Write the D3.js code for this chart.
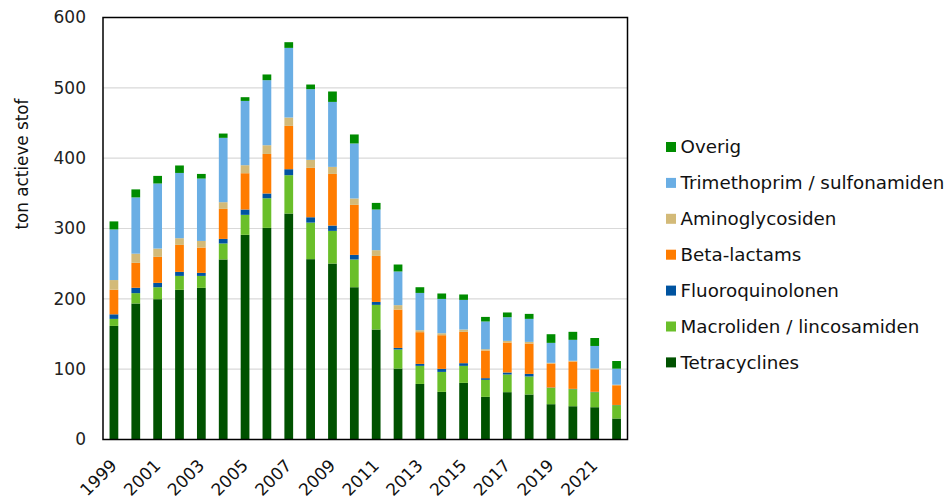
<!DOCTYPE html>
<html>
<head>
<meta charset="utf-8">
<script src="https://cdn.jsdelivr.net/npm/d3@7"></script>
<style>
  html, body { margin: 0; padding: 0; background: #fff; }
  svg { display: block; font-family: "DejaVu Sans", Verdana, sans-serif; }
</style>
</head>
<body>
<svg id="chart" width="952" height="499"></svg>
<script>
// Veterinary antibiotic sales (ton active substance), per class, 1999-2022
const years = d3.range(1999, 2023).map(String);

const tetracyclines = [161.5, 193.4, 199.5, 212.8, 215.6, 256.0, 291.0, 300.9, 321.3, 256.4, 250.2, 216.5, 156.4, 100.9, 79.0, 67.7, 80.5, 60.6, 67.3, 64.0, 50.2, 47.3, 45.9, 29.9];
const macroliden    = [10.0, 14.7, 17.0, 19.8, 17.0, 22.7, 28.4, 42.1, 54.5, 52.0, 46.4, 39.4, 35.0, 27.1, 25.7, 28.4, 24.2, 24.2, 25.1, 25.6, 23.2, 24.2, 21.4, 18.9];
const fluoroquinolonen = [6.5, 7.6, 6.2, 5.7, 4.3, 6.5, 7.6, 6.8, 8.5, 7.6, 7.6, 6.6, 4.2, 2.2, 2.8, 4.3, 3.8, 2.4, 2.9, 3.7, 0.5, 0.5, 0.5, 0.3];
const betaLactams   = [35.0, 35.5, 37.0, 38.4, 36.0, 42.7, 51.6, 56.2, 61.6, 70.2, 73.4, 71.1, 65.4, 54.6, 45.1, 47.9, 44.5, 39.3, 42.6, 43.2, 34.1, 38.9, 32.0, 28.0];
const aminoglycosiden = [13.7, 13.0, 11.8, 9.5, 9.4, 9.5, 11.4, 12.4, 11.9, 11.4, 10.0, 9.1, 8.2, 6.2, 2.8, 2.8, 3.4, 1.9, 2.3, 2.3, 1.0, 1.0, 1.4, 0.8];
const trimethoprim  = [72.0, 80.0, 92.5, 92.8, 88.7, 91.5, 91.4, 92.5, 99.0, 100.5, 92.4, 78.2, 57.8, 47.9, 53.0, 48.8, 42.1, 39.4, 33.7, 32.7, 28.4, 29.8, 31.8, 22.8];
const overig        = [11.4, 11.4, 10.8, 10.6, 6.6, 6.1, 5.3, 8.1, 8.1, 6.6, 14.8, 12.8, 9.4, 9.9, 8.1, 7.7, 7.7, 6.5, 6.7, 7.1, 12.3, 11.4, 11.3, 10.9];

const seriesNames = ["Tetracyclines", "Macroliden / lincosamiden", "Fluoroquinolonen", "Beta-lactams", "Aminoglycosiden", "Trimethoprim / sulfonamiden", "Overig"];
const seriesValues = [tetracyclines, macroliden, fluoroquinolonen, betaLactams, aminoglycosiden, trimethoprim, overig];
const seriesColors = ["#005200", "#6abf2a", "#0053a0", "#ff7c00", "#d3ba78", "#6aaee4", "#008c00"];

const yTicks = [0, 100, 200, 300, 400, 500, 600];
const yLabel = "ton actieve stof";

// table for d3.stack
const rows = years.map((y, i) => {
  const r = { year: y };
  seriesNames.forEach((n, k) => { r[n] = seriesValues[k][i]; });
  return r;
});

const svg = d3.select("#chart");
const margin = { left: 103, right: 952 - 627.5, top: 17.5, bottom: 499 - 439.5 };
const W = 952, H = 499;

const x = d3.scaleBand().domain(years).range([margin.left, W - margin.right]).paddingInner(0.6).paddingOuter(0.3);
const y = d3.scaleLinear().domain([0, 600]).range([H - margin.bottom, margin.top]);

// gridlines
svg.append("g")
  .selectAll("line")
  .data(yTicks.filter(t => t > 0 && t < 600))
  .join("line")
  .attr("x1", margin.left).attr("x2", W - margin.right)
  .attr("y1", d => y(d)).attr("y2", d => y(d))
  .attr("stroke", "#d9d9d9").attr("stroke-width", 1.2);

// stacked bars
const stack = d3.stack().keys(seriesNames);
const layers = stack(rows);
svg.append("g")
  .selectAll("g")
  .data(layers)
  .join("g")
  .attr("fill", (d, i) => seriesColors[i])
  .selectAll("rect")
  .data(d => d)
  .join("rect")
  .attr("x", d => x(d.data.year))
  .attr("width", x.bandwidth())
  .attr("y", d => y(d[1]))
  .attr("height", d => Math.max(0, y(d[0]) - y(d[1])));

// frame
svg.append("rect")
  .attr("x", margin.left).attr("y", margin.top)
  .attr("width", W - margin.right - margin.left)
  .attr("height", y(0) - margin.top)
  .attr("fill", "none").attr("stroke", "#000").attr("stroke-width", 1.5);

// y axis
const yAxis = d3.axisLeft(y).tickValues(yTicks).tickSize(0).tickPadding(17);
const gy = svg.append("g").attr("transform", `translate(${margin.left},0)`).call(yAxis);
gy.select(".domain").remove();
gy.selectAll("text").attr("font-size", 17).attr("fill", "#222").attr("font-family", "DejaVu Sans, Verdana, sans-serif");

// x axis, labels on alternate years
const xAxis = d3.axisBottom(x).tickValues(years.filter((d, i) => i % 2 === 0)).tickSize(0).tickPadding(0);
const gx = svg.append("g").attr("transform", `translate(0,${y(0)})`).call(xAxis);
gx.select(".domain").remove();
gx.selectAll("text")
  .attr("font-size", 17).attr("fill", "#111").attr("font-family", "DejaVu Sans, Verdana, sans-serif")
  .attr("text-anchor", "end")
  .attr("dy", null).attr("y", 0)
  .attr("transform", "translate(4,27) rotate(-45)");

// y axis title
svg.append("text")
  .attr("transform", `translate(28,164) rotate(-90)`)
  .attr("text-anchor", "middle")
  .attr("font-size", 16.8).attr("fill", "#111")
  .text(yLabel);

// legend (top entry is the top of the stack)
const legendOrder = seriesNames.map((n, i) => ({ name: n, color: seriesColors[i] })).reverse();
const lg = svg.append("g").attr("transform", "translate(666,147)");
const item = lg.selectAll("g").data(legendOrder).join("g")
  .attr("transform", (d, i) => `translate(0,${i * 35.9})`);
item.append("rect").attr("x", 0).attr("y", -5).attr("width", 10).attr("height", 10).attr("fill", d => d.color);
item.append("text").attr("x", 14.5).attr("y", 0).attr("dy", "0.34em")
  .attr("font-size", 18.3).attr("fill", "#111").text(d => d.name);
</script>
</body>
</html>
